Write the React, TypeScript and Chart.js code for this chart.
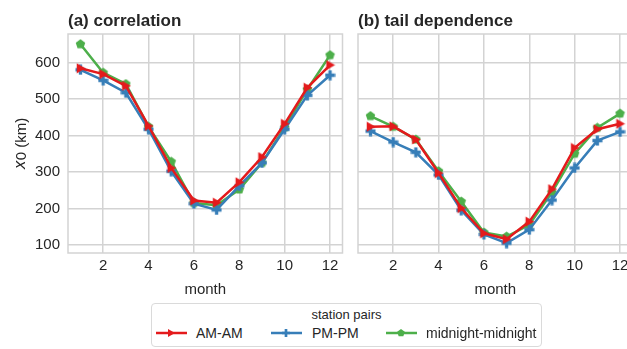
import React, { useEffect, useRef } from "react";
import { Chart, registerables } from "chart.js";

Chart.register(...registerables);

// ---- data ----
const months = [1, 2, 3, 4, 5, 6, 7, 8, 9, 10, 11, 12];
const corrAM = [584, 568, 536, 426, 311, 222, 216, 272, 341, 432, 531, 593];
const corrPM = [580, 551, 517, 417, 302, 213, 196, 262, 325, 417, 510, 565];
const corrMid = [650, 572, 541, 424, 328, 215, 209, 252, 325, 422, 526, 620];
const tailAM = [424, 425, 389, 297, 201, 132, 116, 164, 253, 366, 417, 432];
const tailPM = [412, 382, 354, 292, 195, 129, 105, 142, 223, 311, 386, 410];
const tailMid = [453, 424, 389, 302, 219, 134, 123, 155, 244, 350, 421, 460];

const seriesNames = ["AM-AM", "PM-PM", "midnight-midnight"];
const seriesColors = ["#e41a1c", "#377eb8", "#4daf4a"];
const markerKinds = ["tri", "plus", "pent"];
const panelTitles = ["(a) correlation", "(b) tail dependence"];
const xTicks = [2, 4, 6, 8, 10, 12];
const yTicks = [100, 200, 300, 400, 500, 600];
const xLabel = "month";
const yLabelItalic = "x";
const yLabelRest = "0 (km)";
const legendTitle = "station pairs";

const FONT = "'Liberation Sans', Arial, sans-serif";
const TEXT = "#262626";
const GRID = "#d3d3d3";

function markerPoints(kind: string, cx: number, cy: number, r: number): number[][] {
  if (kind === "tri") {
    return [
      [cx + r, cy],
      [cx - r * 0.75, cy - r],
      [cx - r * 0.75, cy + r],
    ];
  }
  if (kind === "plus") {
    const a = r / 3;
    return [
      [cx - a, cy - r], [cx + a, cy - r], [cx + a, cy - a], [cx + r, cy - a],
      [cx + r, cy + a], [cx + a, cy + a], [cx + a, cy + r], [cx - a, cy + r],
      [cx - a, cy + a], [cx - r, cy + a], [cx - r, cy - a], [cx - a, cy - a],
    ];
  }
  const pts: number[][] = [];
  for (let i = 0; i < 5; i++) {
    const ang = -Math.PI / 2 + (i * 2 * Math.PI) / 5;
    pts.push([cx + r * Math.cos(ang), cy + r * Math.sin(ang)]);
  }
  return pts;
}

function markerImage(kind: string, color: string, size: number) {
  const c = document.createElement("canvas");
  c.width = size;
  c.height = size;
  const g = c.getContext("2d")!;
  g.fillStyle = color;
  const pts = markerPoints(kind, size / 2, size / 2, size / 2 - 0.5);
  g.beginPath();
  pts.forEach((p, i) => (i === 0 ? g.moveTo(p[0], p[1]) : g.lineTo(p[0], p[1])));
  g.closePath();
  g.fill();
  return c;
}

function makeChart(
  canvas: HTMLCanvasElement,
  panel: number,
  series: number[][],
  yWidth: number,
  padRight: number,
  showY: boolean
) {
  const markers = markerKinds.map((k, i) => markerImage(k, seriesColors[i], 11));
  const textPlugin = {
    id: "frameText" + panel,
    beforeDatasetsDraw(chart: any) {
      const { left, top, right, bottom } = chart.chartArea;
      const ctx = chart.ctx;
      ctx.save();
      ctx.strokeStyle = GRID;
      ctx.lineWidth = 1.5;
      ctx.strokeRect(left, top, right - left, bottom - top);
      ctx.restore();
    },
    afterDraw(chart: any) {
      const { left, top, right, bottom } = chart.chartArea;
      const ctx = chart.ctx;
      ctx.save();
      ctx.fillStyle = TEXT;
      ctx.font = `bold 17px ${FONT}`;
      ctx.textAlign = "left";
      ctx.textBaseline = "alphabetic";
      ctx.fillText(panelTitles[panel], left, 26);
      ctx.font = `15px ${FONT}`;
      ctx.textAlign = "center";
      ctx.textBaseline = "middle";
      ctx.fillText(xLabel, (left + right) / 2, 290);
      if (showY) {
        ctx.translate(21.5, (top + bottom) / 2);
        ctx.rotate(-Math.PI / 2);
        const fi = `italic 15px 'DejaVu Sans', sans-serif`;
        const fr = `15px ${FONT}`;
        ctx.font = fi;
        const w1 = ctx.measureText(yLabelItalic).width;
        ctx.font = fr;
        const w2 = ctx.measureText(yLabelRest).width;
        const x0 = -(w1 + w2) / 2;
        ctx.textAlign = "left";
        ctx.font = fi;
        ctx.fillText(yLabelItalic, x0, 0);
        ctx.font = fr;
        ctx.fillText(yLabelRest, x0 + w1, 0);
      }
      ctx.restore();
    },
  };

  return new Chart(canvas, {
    type: "line",
    data: {
      datasets: series.map((vals, i) => ({
        label: seriesNames[i],
        data: months.map((m, j) => ({ x: m, y: vals[j] })),
        borderColor: seriesColors[i],
        backgroundColor: seriesColors[i],
        borderWidth: 2.5,
        pointStyle: markers[i] as any,
        pointRadius: 5,
        tension: 0,
      })),
    },
    options: {
      animation: false,
      responsive: false,
      devicePixelRatio: 1,
      layout: { padding: { left: 0, right: padRight, top: 34, bottom: 0 } },
      plugins: {
        legend: { display: false },
        tooltip: { enabled: false },
        title: { display: false },
      },
      scales: {
        x: {
          type: "linear",
          min: 0.45,
          max: 12.55,
          afterBuildTicks: (s: any) => {
            s.ticks = xTicks.map((v) => ({ value: v }));
          },
          afterFit: (s: any) => {
            s.height = 47;
          },
          grid: { color: GRID, lineWidth: 1.5, drawTicks: false },
          border: { display: false },
          ticks: {
            font: { family: FONT, size: 15 },
            color: TEXT,
            padding: 4,
            maxRotation: 0,
            autoSkip: false,
          },
        },
        y: {
          type: "linear",
          min: 78,
          max: 678,
          afterBuildTicks: (s: any) => {
            s.ticks = yTicks.map((v) => ({ value: v }));
          },
          afterFit: (s: any) => {
            s.width = yWidth;
          },
          grid: { color: GRID, lineWidth: 1.5, drawTicks: false },
          border: { display: false },
          ticks: {
            display: showY,
            font: { family: FONT, size: 15 },
            color: TEXT,
            padding: 8,
          },
        },
      },
    } as any,
    plugins: [textPlugin],
  });
}

function LegendIcon({ idx }: { idx: number }) {
  const pts = markerPoints(markerKinds[idx], 15, 6, 4)
    .map((p) => p.join(","))
    .join(" ");
  return (
    <svg width={31} height={12} style={{ display: "block" }}>
      <line x1={0} y1={6} x2={31} y2={6} stroke={seriesColors[idx]} strokeWidth={2.5} />
      <polygon points={pts} fill={seriesColors[idx]} />
    </svg>
  );
}

export default function App() {
  const leftRef = useRef<HTMLCanvasElement>(null);
  const rightRef = useRef<HTMLCanvasElement>(null);

  useEffect(() => {
    const charts = [
      makeChart(leftRef.current!, 0, [corrAM, corrPM, corrMid], 68, 7, true),
      makeChart(rightRef.current!, 1, [tailAM, tailPM, tailMid], 13, 7, false),
    ];
    return () => charts.forEach((c) => c.destroy());
  }, []);

  const iconX = [4, 119, 234];
  const textX = [44, 160, 274];

  return (
    <div
      style={{
        position: "absolute",
        left: 0,
        top: 0,
        width: 627,
        height: 349,
        overflow: "hidden",
        background: "#fff",
        fontFamily: FONT,
      }}
    >
      <canvas
        ref={leftRef}
        width={350}
        height={300}
        style={{ position: "absolute", left: 0, top: 0, width: 350, height: 300 }}
      />
      <canvas
        ref={rightRef}
        width={295}
        height={300}
        style={{ position: "absolute", left: 345, top: 0, width: 295, height: 300 }}
      />
      <div
        style={{
          position: "absolute",
          left: 151,
          top: 303,
          width: 391,
          height: 44,
          boxSizing: "border-box",
          border: "1px solid #dadada",
          borderRadius: 4,
          background: "#fff",
        }}
      >
        <div
          style={{
            position: "absolute",
            left: 0,
            width: "100%",
            top: 2,
            height: 18,
            lineHeight: "18px",
            textAlign: "center",
            fontSize: 13,
            color: TEXT,
          }}
        >
          {legendTitle}
        </div>
        {seriesNames.map((name, i) => (
          <React.Fragment key={name}>
            <div style={{ position: "absolute", left: iconX[i], top: 23 }}>
              <LegendIcon idx={i} />
            </div>
            <div
              style={{
                position: "absolute",
                left: textX[i],
                top: 20,
                height: 18,
                lineHeight: "18px",
                fontSize: 14,
                color: TEXT,
                whiteSpace: "nowrap",
              }}
            >
              {name}
            </div>
          </React.Fragment>
        ))}
      </div>
    </div>
  );
}
